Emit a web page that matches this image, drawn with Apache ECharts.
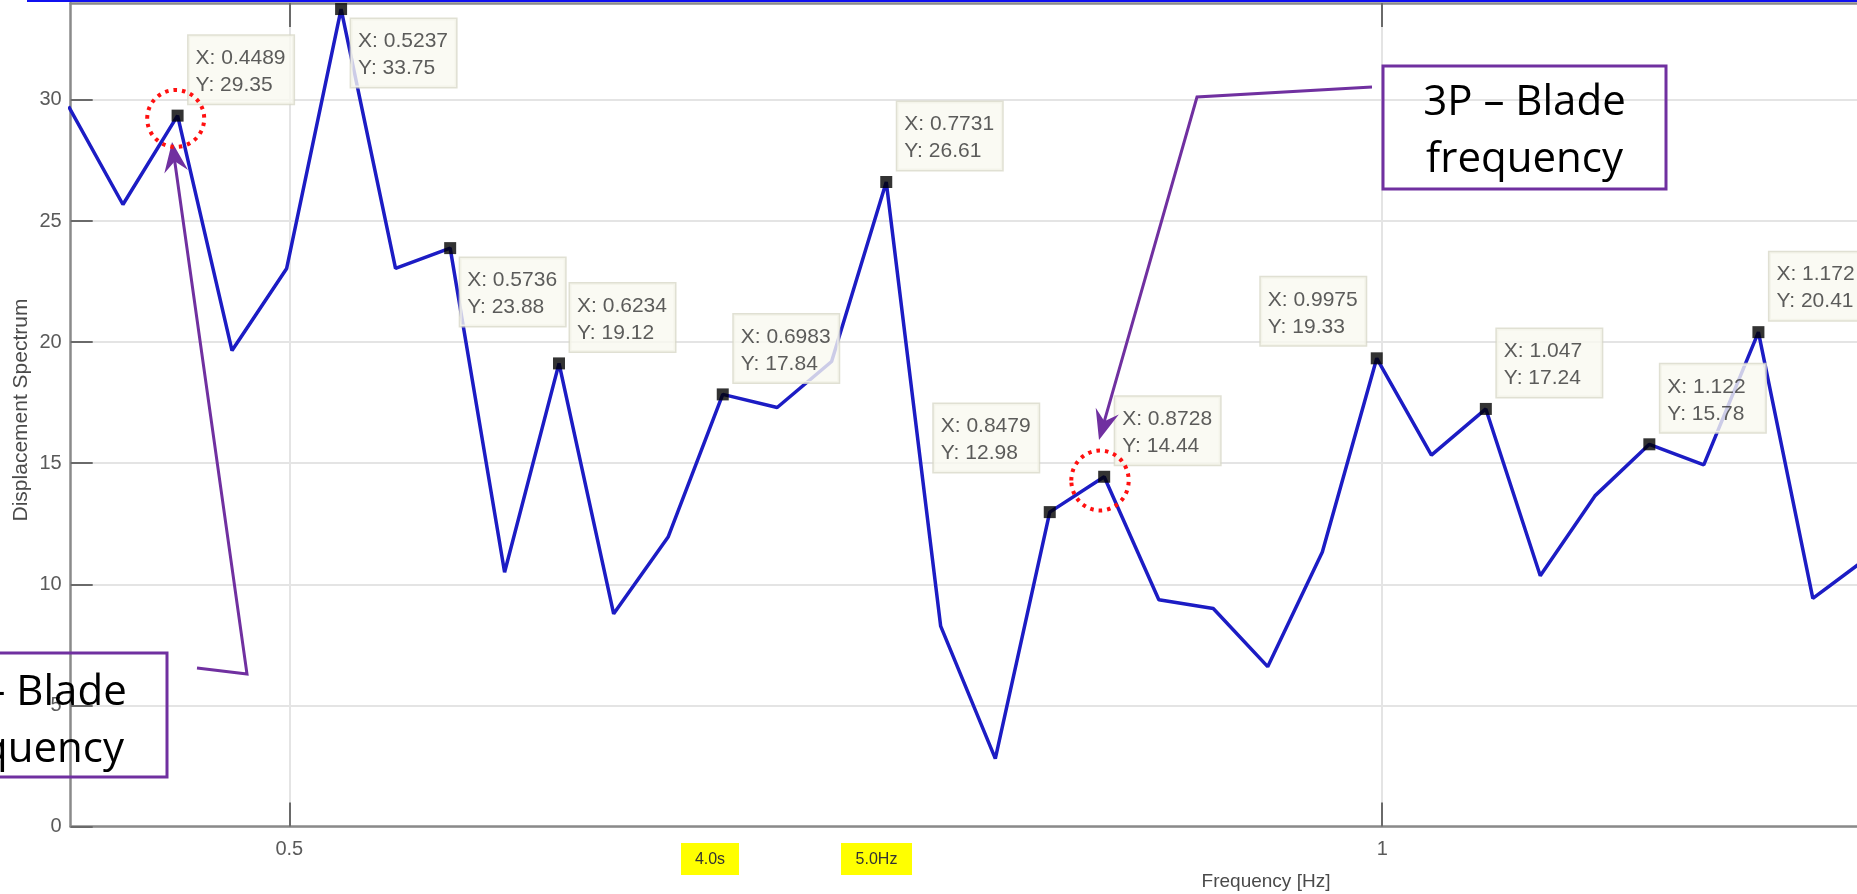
<!DOCTYPE html>
<html><head><meta charset="utf-8">
<script src="https://cdn.jsdelivr.net/npm/echarts@6/dist/echarts.min.js"></script>
<style>html,body{margin:0;padding:0;background:#fff;overflow:hidden}#c{width:1857px;height:894px}</style>
</head><body><div id="c"></div>
<script>
// ---- data ----
const freq = [0.3990, 0.4239, 0.4489, 0.4738, 0.4988, 0.5237, 0.5486, 0.5736, 0.5985, 0.6234,
              0.6484, 0.6733, 0.6983, 0.7232, 0.7481, 0.7731, 0.7980, 0.8230, 0.8479, 0.8728,
              0.8978, 0.9227, 0.9476, 0.9726, 0.9975, 1.0225, 1.0474, 1.0723, 1.0973, 1.1222,
              1.1471, 1.1721, 1.1970, 1.2220];
const spectrum = [29.73, 25.68, 29.35, 19.65, 23.04, 33.75, 23.04, 23.88, 10.50, 19.12,
                  8.78, 11.95, 17.84, 17.30, 19.20, 26.61, 8.27, 2.80, 12.98, 14.44,
                  9.36, 9.00, 6.60, 11.33, 19.33, 15.33, 17.24, 10.35, 13.65, 15.78,
                  14.93, 20.41, 9.42, 11.10];
const tipIndex = [2, 5, 7, 9, 12, 15, 18, 19, 24, 26, 29, 31];
const tipSide  = ['ar', 'br', 'br', 'ar', 'ar', 'ar', 'alh', 'ar', 'al', 'ar', 'ar', 'ar'];
const xTicks = [0.5, 1];
const yTicks = [0, 5, 10, 15, 20, 25, 30];
const xRange = [0.4, 1.2172];
const yRange = [0, 34];
const xTitle = 'Frequency [Hz]';
const yTitle = 'Displacement Spectrum';
const note3P = ['3P – Blade', 'frequency'];
const note1P = ['1P – Blade', 'frequency'];
const badges = ['4.0s', '5.0Hz'];

// ---- styling ----
const FONT = '"Liberation Sans", Arial, Helvetica, sans-serif';
const NOTE_FONT = '"Open Sans", "Noto Sans", sans-serif';
const PURPLE = '#7030a0';
const tipOffset = { ar: [11, -80], br: [10, 10], al: [-116, -81], alh: [-116, -108] };

const chart = echarts.init(document.getElementById('c'), null, { renderer: 'canvas' });

function arrowHead(tip, from, len, half) {
  const dx = tip[0] - from[0], dy = tip[1] - from[1];
  const L = Math.sqrt(dx * dx + dy * dy);
  const ux = dx / L, uy = dy / L, px = -uy, py = ux;
  const bx = tip[0] - ux * len, by = tip[1] - uy * len;
  const nx = tip[0] - ux * len * 0.65, ny = tip[1] - uy * len * 0.65;
  return [tip, [bx + px * half, by + py * half], [nx, ny], [bx - px * half, by - py * half]];
}
function shortEnd(tip, from, d) {
  const dx = tip[0] - from[0], dy = tip[1] - from[1];
  const L = Math.sqrt(dx * dx + dy * dy);
  return [tip[0] - dx / L * d, tip[1] - dy / L * d];
}

function noteBox(x, y, w, h, lines, dy) {
  const cx = x + w / 2;
  return [
    { type: 'rect', shape: { x: x, y: y, width: w, height: h },
      style: { fill: 'none', stroke: PURPLE, lineWidth: 3 }, z: 20 },
    { type: 'text', x: cx, y: y + 37 + dy, style: { text: lines[0], font: '42px ' + NOTE_FONT, fill: '#000',
      textAlign: 'center', textVerticalAlign: 'middle' }, z: 21 },
    { type: 'text', x: cx, y: y + 94 + dy, style: { text: lines[1], font: '42px ' + NOTE_FONT, fill: '#000',
      textAlign: 'center', textVerticalAlign: 'middle' }, z: 21 }
  ];
}

const arrow3P = [[1372, 87], [1197, 97], [1099, 440]];
const arrow1P = [[197, 668], [247, 674], [172, 142]];

const graphics = [].concat(
  [{ type: 'line', shape: { x1: 27, y1: 1, x2: 1857, y2: 1 }, style: { stroke: '#1010f0', lineWidth: 2 }, z: 30 }],
  noteBox(1383, 66, 283, 123, note3P, 0),
  noteBox(-116, 653, 283, 124, note1P, 3),
  [
    { type: 'polyline', shape: { points: [arrow3P[0], arrow3P[1], shortEnd(arrow3P[2], arrow3P[1], 18)] },
      style: { stroke: PURPLE, lineWidth: 3, fill: 'none' }, z: 20 },
    { type: 'polygon', shape: { points: arrowHead(arrow3P[2], arrow3P[1], 30, 12) },
      style: { fill: PURPLE }, z: 20 },
    { type: 'polyline', shape: { points: [arrow1P[0], arrow1P[1], shortEnd(arrow1P[2], arrow1P[1], 18)] },
      style: { stroke: PURPLE, lineWidth: 3, fill: 'none' }, z: 20 },
    { type: 'polygon', shape: { points: arrowHead(arrow1P[2], arrow1P[1], 30, 12) },
      style: { fill: PURPLE }, z: 20 },
    { type: 'ellipse', shape: { cx: 175.7, cy: 118.5, rx: 28.5, ry: 28.5 },
      style: { fill: 'none', stroke: '#ff1010', lineWidth: 4, lineDash: [3.5, 5] }, z: 20 },
    { type: 'ellipse', shape: { cx: 1100, cy: 480.5, rx: 28.7, ry: 30 },
      style: { fill: 'none', stroke: '#ff1010', lineWidth: 4, lineDash: [3.5, 5] }, z: 20 },
    { type: 'text', x: 21.7, y: 410, rotation: Math.PI / 2,
      style: { text: yTitle, font: '21px ' + FONT, fill: '#4a4a4a', textAlign: 'center', textVerticalAlign: 'middle' } },
    { type: 'text', x: 1266, y: 882,
      style: { text: xTitle, font: '19px ' + FONT, fill: '#4a4a4a', textAlign: 'center', textVerticalAlign: 'middle' } },
    { type: 'rect', shape: { x: 681, y: 843, width: 58, height: 32 }, style: { fill: '#ffff00' } },
    { type: 'text', x: 710, y: 859.5, style: { text: badges[0], font: '16px ' + FONT, fill: '#333',
      textAlign: 'center', textVerticalAlign: 'middle' } },
    { type: 'rect', shape: { x: 841, y: 843, width: 71, height: 32 }, style: { fill: '#ffff00' } },
    { type: 'text', x: 876.5, y: 859.5, style: { text: badges[1], font: '16px ' + FONT, fill: '#333',
      textAlign: 'center', textVerticalAlign: 'middle' } }
  ]
);

const axisLineStyle = { color: '#8a8a8a', width: 2.5 };
const tickStyle = { color: '#6a6a6a', width: 2 };
const gridLine = { color: '#e4e4e4', width: 2 };

const option = {
  animation: false,
  backgroundColor: '#ffffff',
  grid: { left: 70.7, top: 3, right: 0, bottom: 67.5, containLabel: false },
  xAxis: [
    { type: 'value', min: xRange[0], max: xRange[1], position: 'bottom',
      axisLine: { show: true, onZero: false, lineStyle: axisLineStyle },
      axisTick: { show: true, inside: true, length: 24, customValues: xTicks, lineStyle: tickStyle },
      axisLabel: { show: true, customValues: xTicks, formatter: v => String(v), margin: 13,
        fontSize: 20, color: '#5a5a5a', fontFamily: FONT },
      splitLine: { show: true, lineStyle: gridLine } },
    { type: 'value', min: xRange[0], max: xRange[1], position: 'top',
      axisLine: { show: true, onZero: false, lineStyle: axisLineStyle },
      axisTick: { show: true, inside: true, length: 24, customValues: xTicks, lineStyle: tickStyle },
      axisLabel: { show: false }, splitLine: { show: false } }
  ],
  yAxis: [
    { type: 'value', min: yRange[0], max: yRange[1], position: 'left',
      axisLine: { show: true, onZero: false, lineStyle: axisLineStyle },
      axisTick: { show: true, inside: true, length: 22, customValues: yTicks, lineStyle: tickStyle },
      axisLabel: { show: true, customValues: yTicks, margin: 9, fontSize: 20, color: '#5a5a5a', fontFamily: FONT },
      splitLine: { show: true, lineStyle: gridLine } }
  ],
  series: [
    { type: 'line', name: 'spectrum', data: freq.map((f, i) => [f, spectrum[i]]),
      showSymbol: false, symbol: 'none', z: 2,
      lineStyle: { color: '#1c1cc4', width: 3.5 } },
    { type: 'scatter', name: 'datatips', symbol: 'rect', symbolSize: 12, z: 10,
      itemStyle: { color: '#000' },
      data: tipIndex.map((idx, j) => {
        const off = tipOffset[tipSide[j]];
        return {
          value: [freq[idx], spectrum[idx]],
          label: {
            show: true, position: [off[0] + 6, off[1] + 6], align: 'left', verticalAlign: 'top',
            formatter: 'X: ' + freq[idx].toPrecision(4) + '\nY: ' + spectrum[idx].toFixed(2),
            fontFamily: FONT, fontSize: 21, lineHeight: 27, color: '#333', width: 92,
            padding: [9, 6, 5, 7], backgroundColor: '#f9f9f0', borderColor: '#d8d8c8', borderWidth: 1.5
          }
        };
      }) }
  ],
  graphic: graphics
};
chart.setOption(option);
</script></body></html>
